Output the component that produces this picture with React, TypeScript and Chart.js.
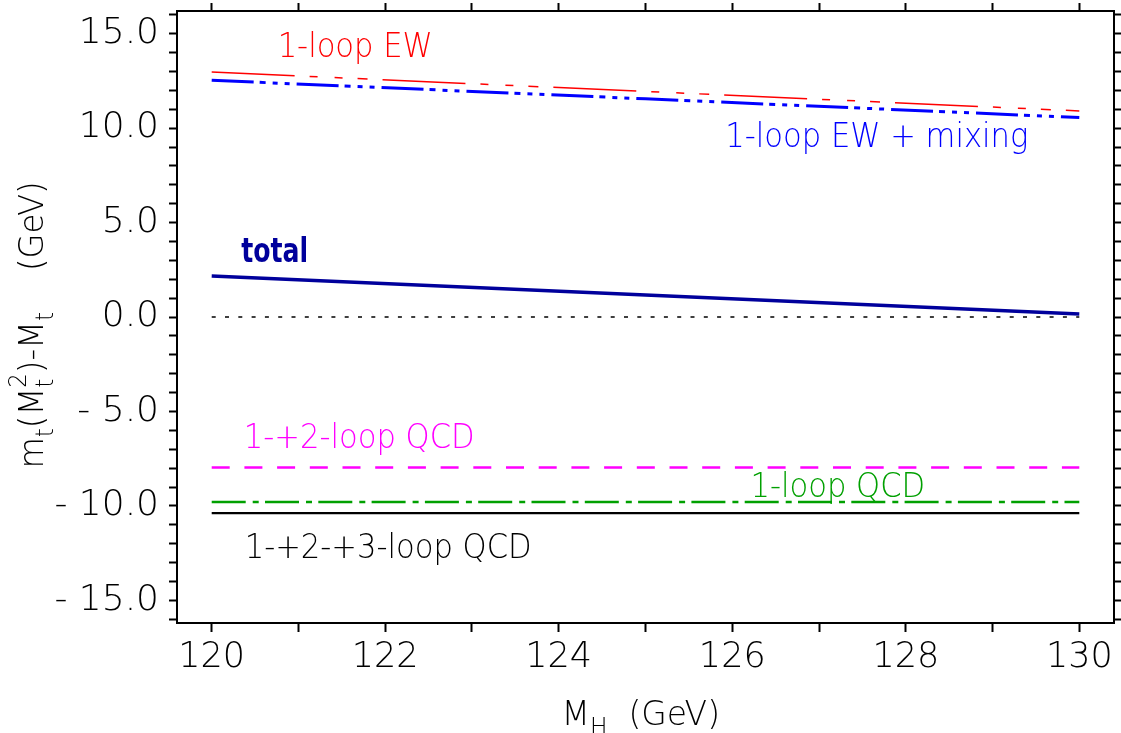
import React, { useEffect, useRef } from 'react';
import { Chart, registerables } from 'chart.js';

Chart.register(...registerables);

// ---- data ----
const mH = [120, 125, 130];
const ew1Loop = [12.97, 11.94, 10.91];
const ewMixing = [12.53, 11.55, 10.56];
const totalShift = [2.17, 1.17, 0.16];
const zeroLine = [0, 0, 0];
const qcd12Loop = [-7.97, -7.97, -7.97];
const qcd1Loop = [-9.8, -9.8, -9.8];
const qcd123Loop = [-10.38, -10.38, -10.38];

const xTickValues = [120, 121, 122, 123, 124, 125, 126, 127, 128, 129, 130];
const xLabelValues = [120, 122, 124, 126, 128, 130];
const yTickValues = [-16, -15, -14, -13, -12, -11, -10, -9, -8, -7, -6, -5, -4, -3, -2, -1, 0, 1, 2, 3, 4, 5, 6, 7, 8, 9, 10, 11, 12, 13, 14, 15, 16];
const yLabelValues = [-15, -10, -5, 0, 5, 10, 15];

const curveLabels = ['1-loop EW', '1-loop EW + mixing', 'total', '1-+2-loop QCD', '1-loop QCD', '1-+2-+3-loop QCD'];
const curveLabelX = [120.76, 125.92, 120.34, 120.37, 126.21, 120.38];
const curveLabelY = [13.75, 8.99, 2.91, -6.93, -9.52, -12.75];

// ---- styles ----
const FAMILY = "'DejaVu Sans'";
const LIGHT = '200';
const labelColors = ['#ff0000', '#0000ff', '#00009c', '#ff00ff', '#00a000', '#000000'];
const labelBold = [false, false, true, false, false, false];

const pts = (ys: number[]) => mH.map((x, i) => ({ x, y: ys[i] }));

function drawScaled(ctx: CanvasRenderingContext2D, text: string, x: number, y: number, font: string, color: string, sx: number) {
  ctx.save();
  ctx.font = font;
  ctx.fillStyle = color;
  ctx.textBaseline = 'alphabetic';
  ctx.textAlign = 'left';
  ctx.translate(x, y);
  ctx.scale(sx, 1);
  ctx.fillText(text, 0, 0);
  ctx.restore();
}

type Piece = { t: string; size: number; dy: number; stack?: boolean; pad?: number };

function drawPieces(ctx: CanvasRenderingContext2D, pieces: Piece[], startX: number, baseY: number, sx: number, centered: boolean) {
  const fontOf = (p: Piece) => `${LIGHT} ${p.size}px ${FAMILY}`;
  const widths = pieces.map((p) => {
    ctx.font = fontOf(p);
    return ctx.measureText(p.t).width * sx;
  });
  const adv = (i: number) =>
    (i + 1 < pieces.length && pieces[i + 1].stack ? Math.max(widths[i], widths[i + 1]) : widths[i]) + (pieces[i].pad || 0);
  let total = 0;
  pieces.forEach((p, i) => {
    if (!p.stack) total += adv(i);
  });
  let x = centered ? startX - total / 2 : startX;
  pieces.forEach((p, i) => {
    if (p.stack) {
      drawScaled(ctx, p.t, x - Math.max(widths[i], widths[i - 1]) - (pieces[i - 1].pad || 0), baseY + p.dy, fontOf(p), '#000', sx);
      return;
    }
    drawScaled(ctx, p.t, x, baseY + p.dy, fontOf(p), '#000', sx);
    x += adv(i);
  });
}

const textPlugin = {
  id: 'curveTexts',
  afterDraw(chart: any) {
    const { ctx, chartArea } = chart;
    const xs = chart.scales.x;
    const ys = chart.scales.y;
    curveLabels.forEach((t, i) => {
      const px = xs.getPixelForValue(curveLabelX[i]);
      const py = ys.getPixelForValue(curveLabelY[i]);
      const bold = labelBold[i];
      drawScaled(ctx, t, px, py, `${bold ? 'bold' : LIGHT} 34px ${FAMILY}`, labelColors[i], bold ? 0.74 : 0.9);
    });
    // x title
    const xc = (chartArea.left + chartArea.right) / 2;
    drawPieces(
      ctx,
      [
        { t: 'M', size: 34, dy: 0 },
        { t: 'H', size: 24, dy: 10 },
        { t: '  (GeV)', size: 34, dy: 0 },
      ],
      xc - 84,
      725,
      0.97,
      false
    );
    // y title (rotated)
    ctx.save();
    ctx.translate(43, (chartArea.top + chartArea.bottom) / 2 + 8);
    ctx.rotate(-Math.PI / 2);
    drawPieces(
      ctx,
      [
        { t: 'm', size: 34, dy: 0 },
        { t: 't', size: 24, dy: 10 },
        { t: '(M', size: 34, dy: 0 },
        { t: 't', size: 24, dy: 10 },
        { t: '2', size: 24, dy: -17, stack: true },
        { t: ')-M', size: 34, dy: 0 },
        { t: 't', size: 24, dy: 10 },
        { t: '    (GeV)', size: 34, dy: 0 },
      ],
      0,
      0,
      0.95,
      true
    );
    ctx.restore();
  },
};

const fmtY = (v: number) => (v < 0 ? '- ' + (-v).toFixed(1) : v.toFixed(1));

export default function App() {
  const ref = useRef<HTMLCanvasElement | null>(null);
  useEffect(() => {
    if (!ref.current) return;
    const gridCommon = (len: number) => ({
      display: true,
      drawOnChartArea: false,
      drawTicks: true,
      tickLength: len,
      tickWidth: 2,
      tickColor: '#000',
      color: '#000',
    });
    const border = { display: true, color: '#000', width: 2 };
    const setX = (s: any) => {
      s.ticks = xTickValues.map((v) => ({ value: v }));
    };
    const setY = (s: any) => {
      s.ticks = yTickValues.map((v) => ({ value: v }));
    };
    const fitH = (h: number) => (s: any) => {
      s.height = h;
      s.paddingLeft = 0;
      s.paddingRight = 0;
      s.paddingTop = 0;
      s.paddingBottom = 0;
    };
    const fitW = (w: number) => (s: any) => {
      s.width = w;
      s.paddingLeft = 0;
      s.paddingRight = 0;
      s.paddingTop = 0;
      s.paddingBottom = 0;
    };
    const tickFont = (size: number) => ({ family: FAMILY, size, weight: LIGHT });
    const chart = new Chart(ref.current, {
      type: 'line',
      data: {
        datasets: [
          { label: '1-loop EW', data: pts(ew1Loop), borderColor: '#ff0000', borderWidth: 1.5, borderDash: [83, 15, 8, 17, 8, 15, 10, 15] },
          { label: '1-loop EW + mixing', data: pts(ewMixing), borderColor: '#0000ff', borderWidth: 3, borderDash: [42, 6, 6, 7, 5, 7, 5, 7] },
          { label: 'total', data: pts(totalShift), borderColor: '#00009c', borderWidth: 3.5 },
          { label: 'zero', data: pts(zeroLine), borderColor: '#000000', borderWidth: 1.5, borderDash: [4, 9.3] },
          { label: '1-+2-loop QCD', data: pts(qcd12Loop), borderColor: '#ff00ff', borderWidth: 2.5, borderDash: [18, 14.7] },
          { label: '1-loop QCD', data: pts(qcd1Loop), borderColor: '#00a000', borderWidth: 2.5, borderDash: [34, 7, 6, 6.3] },
          { label: '1-+2-+3-loop QCD', data: pts(qcd123Loop), borderColor: '#000000', borderWidth: 2.2 },
        ] as any,
      },
      options: {
        responsive: false,
        animation: false,
        layout: { padding: 0, autoPadding: false },
        elements: { point: { radius: 0 }, line: { tension: 0, fill: false } },
        plugins: { legend: { display: false }, tooltip: { enabled: false } },
        scales: {
          x: {
            type: 'linear',
            position: 'bottom',
            min: 119.6,
            max: 130.4,
            afterBuildTicks: setX,
            afterFit: fitH(110),
            grid: gridCommon(9),
            border,
            ticks: {
              autoSkip: false,
              maxRotation: 0,
              color: '#000',
              padding: 5,
              font: tickFont(35),
              callback: (v: any) => (xLabelValues.includes(Number(v)) ? String(v) : ''),
            },
          },
          x2: {
            type: 'linear',
            position: 'top',
            display: true,
            min: 119.6,
            max: 130.4,
            afterBuildTicks: setX,
            afterFit: fitH(11),
            grid: gridCommon(8),
            border,
            ticks: { display: false, autoSkip: false },
          },
          y: {
            type: 'linear',
            position: 'left',
            min: -16.2,
            max: 16.2,
            afterBuildTicks: setY,
            afterFit: fitW(177),
            grid: gridCommon(8),
            border,
            ticks: {
              autoSkip: false,
              color: '#000',
              padding: 10,
              font: tickFont(36),
              callback: (v: any) => (yLabelValues.includes(Number(v)) ? fmtY(Number(v)) : ''),
            },
          },
          y2: {
            type: 'linear',
            position: 'right',
            display: true,
            min: -16.2,
            max: 16.2,
            afterBuildTicks: setY,
            afterFit: fitW(7),
            grid: gridCommon(7),
            border,
            ticks: { display: false, autoSkip: false },
          },
        } as any,
      },
      plugins: [textPlugin],
    });
    return () => chart.destroy();
  }, []);
  return (
    <div style={{ position: 'fixed', left: 0, top: 0, width: 1121, height: 733, background: '#fff' }}>
      <canvas ref={ref} width={1121} height={733} style={{ display: 'block', width: 1121, height: 733 }} />
    </div>
  );
}
